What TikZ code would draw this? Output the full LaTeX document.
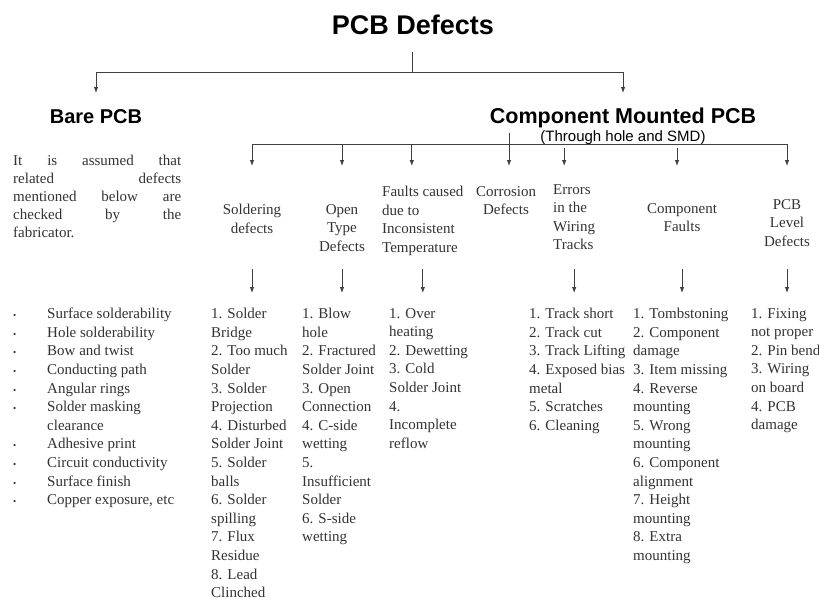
\documentclass[tikz,border=0pt]{standalone}
\usepackage{fontspec}
\setmainfont{Liberation Serif}
\newfontfamily\headfont{Liberation Sans}
\usetikzlibrary{arrows.meta,calc,positioning}
\newcommand{\blt}{\makebox[34pt][l]{\fontsize{9}{9}\selectfont\textbullet}}
\newcommand{\bltgap}{\hspace*{34pt}}
\tikzset{
  conn/.style={draw=black!75,line width=0.9pt},
  conarrow/.style={conn,-{Latex[length=6pt,width=4.5pt]}},
  maintitle/.style={inner sep=0,anchor=base,font=\headfont\bfseries\fontsize{27}{32}\selectfont},
  branch/.style={inner sep=0,anchor=base,font=\headfont\bfseries\fontsize{20}{24}\selectfont},
  subnote/.style={inner sep=0,anchor=base,font=\headfont\fontsize{15}{18}\selectfont},
  category/.style={inner sep=0,align=center,anchor=north,text=black!80,font=\fontsize{15}{18.6}\selectfont},
  deflist/.style={inner sep=0,align=left,anchor=north west,text=black!80,font=\fontsize{15}{18.6}\selectfont}
}
\begin{document}
\begin{tikzpicture}[x=1pt,y=-1pt]
  \fill[white] (0,0) rectangle (819,600);
  \useasboundingbox (0,0) rectangle (819,600);
  % headings
  \node[maintitle] (pcb) at (413,34) {PCB Defects};
  \node[branch] (bare) at (96,123) {Bare PCB};
  \node[branch,font=\headfont\bfseries\fontsize{21.5}{26}\selectfont] (cmp) at (623,123) {Component Mounted PCB};
  \node[subnote] (smd) at (623,141) {(Through hole and SMD)};
  % first split
  \coordinate (split) at (412,72);
  \coordinate (htip) at (0,93);
  \draw[conn] ($(pcb.south -| split)+(0,18)$) -- (split);
  \draw[conarrow] (split) -| (bare |- htip);
  \draw[conarrow] (split) -| (cmp |- htip);
  % note on bare boards
  \node[deflist,text width=168pt,align=justify,font=\fontsize{15}{18}\selectfont] (note) at (13,155)
    {It is assumed that\linebreak related defects\linebreak mentioned below are\linebreak checked by the\linebreak fabricator.};
  % defect categories
  \node[category] (hsold) at (252,204) {Soldering\\defects};
  \node[category] (hopen) at (342,204) {Open\\Type\\Defects};
  \node[category,align=left,anchor=north west] (hfault) at (382,186) {Faults caused\\due to\\Inconsistent\\Temperature};
  \node[category] (hcorr) at (506,186) {Corrosion\\Defects};
  \node[category,align=left,anchor=north west] (herr) at (553,184) {Errors\\in the\\Wiring\\Tracks};
  \node[category] (hcomp) at (682,203) {Component\\Faults};
  \node[category] (hpcb) at (787,199) {PCB\\Level\\Defects};
  % second split
  \coordinate (bar) at (0,144);
  \coordinate (tip) at (0,166);
  \draw[conn] (hsold |- bar) -- (hpcb |- bar);
  \draw[conarrow] ($(cmp.south -| hcorr)+(3,5)$) -- ($(hcorr |- tip)+(3,0)$);
  \draw[conarrow] (hsold |- bar) -- (hsold |- tip);
  \draw[conarrow] (hopen |- bar) -- (hopen |- tip);
  \draw[conarrow] ($(hfault |- bar)+(-11,0)$) -- ($(hfault |- tip)+(-11,0)$);
  \draw[conarrow] ($(herr |- bar)+(-10,4)$) -- ($(herr |- tip)+(-10,0)$);
  \draw[conarrow] ($(hcomp |- bar)+(-5,4)$) -- ($(hcomp |- tip)+(-5,0)$);
  \draw[conarrow] (hpcb |- bar) -- (hpcb |- tip);
  % lists
  \coordinate (atop) at (0,269);
  \coordinate (abot) at (0,293);
  \foreach \n in {hsold,hopen,hfault,herr,hcomp,hpcb}
    \draw[conarrow] (\n |- atop) -- (\n |- abot);
  \node[deflist] (lbare) at (13,308) {\blt Surface solderability\\ \blt Hole solderability\\ \blt Bow and twist\\
    \blt Conducting path\\ \blt Angular rings\\ \blt Solder masking\\ \bltgap clearance\\ \blt Adhesive print\\
    \blt Circuit conductivity\\ \blt Surface finish\\ \blt Copper exposure, etc};
  \node[deflist] (lsold) at (211,308) {1. Solder\\Bridge\\2. Too much\\Solder\\3. Solder\\Projection\\4. Disturbed\\Solder Joint\\
    5. Solder\\balls\\6. Solder\\spilling\\7. Flux\\Residue\\8. Lead\\Clinched};
  \node[deflist] (lopen) at (302,308) {1. Blow\\hole\\2. Fractured\\Solder Joint\\3. Open\\Connection\\4. C-side\\wetting\\
    5.\\Insufficient\\Solder\\6. S-side\\wetting};
  \node[deflist] (lfault) at (389,308) {1. Over\\heating\\2. Dewetting\\3. Cold\\Solder Joint\\4.\\Incomplete\\reflow};
  \node[deflist] (ltrack) at (529,308) {1. Track short\\2. Track cut\\3. Track Lifting\\4. Exposed bias\\metal\\5. Scratches\\6. Cleaning};
  \node[deflist] (lcomp) at (633,308) {1. Tombstoning\\2. Component\\damage\\3. Item missing\\4. Reverse\\mounting\\5. Wrong\\mounting\\
    6. Component\\alignment\\7. Height\\mounting\\8. Extra\\mounting};
  \node[deflist] (lpcb) at (751,308) {1. Fixing\\not proper\\2. Pin bend\\3. Wiring\\on board\\4. PCB\\damage};
\end{tikzpicture}
\end{document}
